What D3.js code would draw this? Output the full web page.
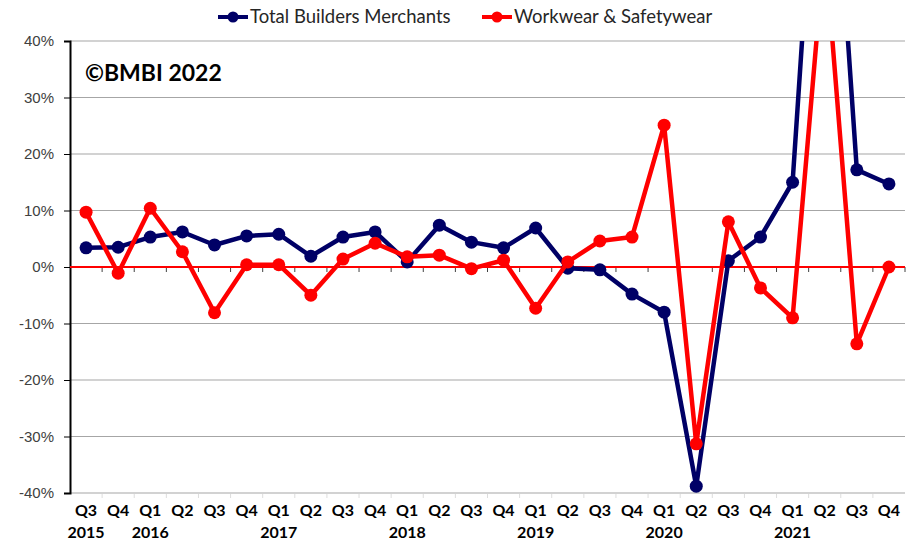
<!DOCTYPE html>
<html>
<head>
<meta charset="utf-8">
<script src="https://cdn.jsdelivr.net/npm/d3@7"></script>
<style>
  body { margin: 0; background: #fff; }
  svg { display: block; font-family: Lato, "Open Sans", sans-serif; }
</style>
</head>
<body>
<script>
var width = 906,
	height = 542,
	margin = {top: 41, right: 1, bottom: 49, left: 70};

var quarters = ["Q3","Q4","Q1","Q2","Q3","Q4","Q1","Q2","Q3","Q4","Q1","Q2","Q3",
	"Q4","Q1","Q2","Q3","Q4","Q1","Q2","Q3","Q4","Q1","Q2","Q3","Q4"];
var years = ["2015","","2016","","","","2017","","","","2018","","",
	"","2019","","","","2020","","","","2021","","",""];
var builders = [3.4,3.5,5.3,6.2,3.9,5.5,5.8,1.9,5.3,6.2,0.9,7.4,4.4,
	3.4,6.9,-0.2,-0.5,-4.8,-8.0,-38.8,1.1,5.3,15.0,100,17.2,14.7];
var workwear = [9.7,-1.1,10.4,2.7,-8.1,0.4,0.4,-5.0,1.4,4.2,1.8,2.1,-0.3,
	1.2,-7.3,0.9,4.6,5.3,25.1,-31.3,8.0,-3.7,-9.0,57,-13.6,0.0];
var yTicks = [-40,-30,-20,-10,0,10,20,30,40];

var series = [
	{name: "Total Builders Merchants", color: "#000066", values: builders},
	{name: "Workwear & Safetywear", color: "#ff0000", values: workwear}
];

var svg = d3.select("body").append("svg")
	.attr("width", width)
	.attr("height", height);

var x = d3.scaleBand()
	.domain(d3.range(quarters.length))
	.range([margin.left, width - margin.right]);

var y = d3.scaleLinear()
	.domain([-40, 40])
	.range([height - margin.bottom, margin.top]);

// gridlines
svg.append("g").selectAll("line")
	.data(yTicks.filter(function(d) { return d !== 0; }))
	.join("line")
	.attr("x1", margin.left).attr("x2", width - margin.right)
	.attr("y1", function(d) { return y(d); }).attr("y2", function(d) { return y(d); })
	.attr("stroke", "#a6a6a6").attr("stroke-width", 1.2);

// faint ticks along the bottom
svg.append("g").selectAll("line")
	.data(d3.range(1, quarters.length))
	.join("line")
	.attr("x1", function(i) { return x(i); }).attr("x2", function(i) { return x(i); })
	.attr("y1", y(-40) + 1).attr("y2", y(-40) + 5)
	.attr("stroke", "#dddddd");

// y axis
var yAxis = svg.append("g")
	.attr("transform", "translate(" + margin.left + ",0)")
	.call(d3.axisLeft(y).tickValues(yTicks).tickSize(6).tickFormat(function(d) { return d + "%"; }));
yAxis.select(".domain").attr("stroke", "#000").attr("stroke-width", 2);
yAxis.selectAll(".tick line").attr("stroke", "#000");
yAxis.selectAll("text").attr("font-size", 15).attr("fill", "#404040").attr("x", -16);

// zero axis with ticks
var xAxis = svg.append("g")
	.attr("transform", "translate(0," + y(0) + ")")
	.call(d3.axisBottom(x).tickValues([]).tickSizeOuter(0));
xAxis.select(".domain").remove();
xAxis.append("g").selectAll("line")
	.data(d3.range(1, quarters.length + 1))
	.join("line")
	.attr("x1", function(i) { return x.step() * i + margin.left; })
	.attr("x2", function(i) { return x.step() * i + margin.left; })
	.attr("y1", 0).attr("y2", 5)
	.attr("stroke", "#404040");
svg.append("line")
	.attr("x1", margin.left).attr("x2", width - margin.right)
	.attr("y1", y(0)).attr("y2", y(0))
	.attr("stroke", "#ff0000").attr("stroke-width", 2);

// category labels
var labels = svg.append("g").attr("font-weight", "bold").attr("font-size", 16)
	.attr("fill", "#000").attr("text-anchor", "middle");
labels.selectAll(".q")
	.data(quarters)
	.join("text")
	.attr("x", function(d, i) { return x(i) + x.bandwidth() / 2; })
	.attr("y", 516)
	.text(function(d) { return d; });
labels.selectAll(".yr")
	.data(years)
	.join("text")
	.attr("x", function(d, i) { return x(i) + x.bandwidth() / 2; })
	.attr("y", 538)
	.text(function(d) { return d; });

// lines
svg.append("clipPath").attr("id", "plot")
	.append("rect")
	.attr("x", margin.left).attr("y", margin.top)
	.attr("width", width - margin.left - margin.right)
	.attr("height", height - margin.top - margin.bottom);

var line = d3.line()
	.x(function(d, i) { return x(i) + x.bandwidth() / 2; })
	.y(function(d) { return y(d); });

var plot = svg.append("g").attr("clip-path", "url(#plot)");
series.forEach(function(s) {
	var g = plot.append("g");
	g.append("path")
		.attr("d", line(s.values))
		.attr("fill", "none")
		.attr("stroke", s.color)
		.attr("stroke-width", 4.5)
		.attr("stroke-linejoin", "round");
	g.selectAll("circle")
		.data(s.values)
		.join("circle")
		.attr("cx", function(d, i) { return x(i) + x.bandwidth() / 2; })
		.attr("cy", function(d) { return y(d); })
		.attr("r", 6.5)
		.attr("fill", s.color);
});

// watermark
svg.append("text")
	.attr("x", 85).attr("y", 81)
	.attr("font-size", 23).attr("font-weight", "bold")
	.text("©BMBI 2022");

// legend
var legendX = [218, 482];
var legend = svg.append("g");
series.forEach(function(s, i) {
	var lg = legend.append("g").attr("transform", "translate(" + legendX[i] + ",17)");
	lg.append("line").attr("x1", 0).attr("x2", 30).attr("stroke", s.color).attr("stroke-width", 4);
	lg.append("circle").attr("cx", 15).attr("r", 5.5).attr("fill", s.color);
	lg.append("text").attr("x", 32).attr("y", 6).attr("font-size", 18.5).attr("fill", "#262626").text(s.name);
});
</script>
</body>
</html>
